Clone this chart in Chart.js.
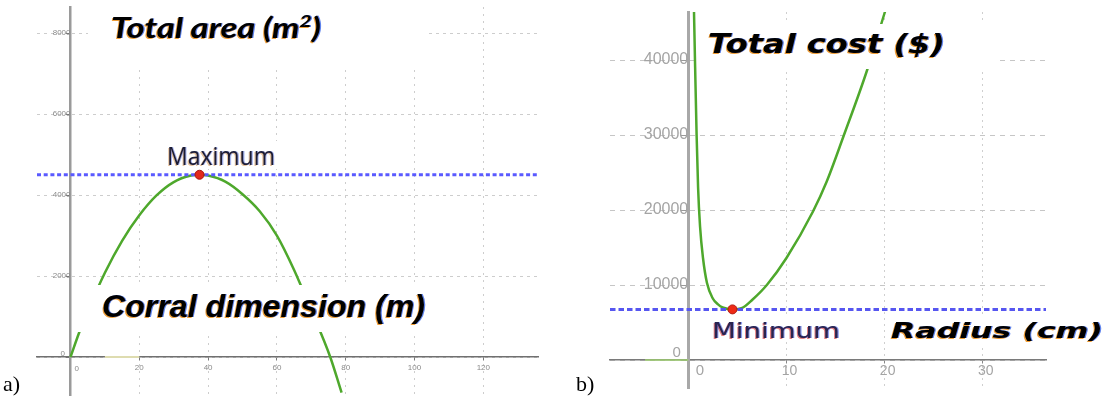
<!DOCTYPE html>
<html><head><meta charset="utf-8">
<script src="https://cdn.jsdelivr.net/npm/chart.js@4.4.1/dist/chart.umd.min.js"></script>
<style>
html,body{margin:0;padding:0;background:#fff;width:1112px;height:401px;overflow:hidden}
canvas{position:absolute;top:0}
#cA{left:0}
#cB{left:556px}
.lab{position:absolute;font-family:'Liberation Serif','Times New Roman',serif;font-size:22px;color:#000;line-height:1}
</style></head><body>
<canvas id="cA" width="556" height="401"></canvas>
<canvas id="cB" width="556" height="401"></canvas>
<div class="lab" style="left:3px;top:373px">a)</div>
<div class="lab" style="left:576px;top:373px">b)</div>
<script>
// ---------- (a) Total area vs corral dimension ----------
const corralDimension = [0, 2.5, 5, 10, 15, 20, 25, 30, 35, 37.5, 40, 45, 50, 55, 60, 65, 70, 75.5, 78.8];
const totalArea       = [0, 600, 1130, 2080, 2870, 3500, 3990, 4320, 4480, 4500, 4480, 4330, 4020, 3600, 3000, 2150, 1150, 0, -880];
const areaMaxX = 37.5;
const areaMaxY = 4500;
const areaXTicks = [0, 20, 40, 60, 80, 100, 120];
const areaYTicks = [0, 2000, 4000, 6000, 8000];
const areaXRange = [-9.74, 135.9];
const areaYRange = [-938, 8642];
const areaFaintX = [10, 20];

// ---------- (b) Total cost vs radius ----------
const radius    = [0.56, 0.7, 0.85, 1.0, 1.2, 1.5, 1.9, 2.5, 3.0, 3.5, 4.5, 5.5, 6.5, 8.0, 10.0, 12.7, 14.1, 15.8, 18.2, 20.0, 20.4];
const totalCost = [48000, 39000, 30000, 23000, 17800, 13600, 10300, 8200, 7450, 7000, 6750, 6950, 8000, 10000, 13600, 19800, 23800, 29800, 38600, 46300, 48000];
const costMinX = 4.5;
const costMinY = 6750;
const costXTicks = [0, 10, 20, 30];
const costYTicks = [0, 10000, 20000, 30000, 40000];
const costXRange = [-7.97, 36.43];
const costYRange = [-3733, 46400];
const costStubX = [-4.4, 0];

function pts(xs, ys) { return xs.map((x, i) => ({x: x, y: ys[i]})); }

function drawRuns(ctx, it, offX) {
  ctx.save();
  ctx.textBaseline = 'alphabetic';
  ctx.textAlign = 'left';
  let total = 0;
  const widths = it.runs.map(r => { ctx.font = r.font; const w = ctx.measureText(r.text).width; total += w; return w; });
  const s = it.width / total;
  const layers = it.fringe ? [[-1.1, 0.6, it.fringe[0]], [1.1, -0.3, it.fringe[1]], [0, 0, it.color]] : [[0, 0, it.color]];
  layers.forEach(([dx, dy, col]) => {
    ctx.save();
    ctx.translate(it.x - offX + dx, it.y + dy);
    ctx.scale(s, 1);
    let cx = 0;
    it.runs.forEach((r, i) => {
      ctx.font = r.font; ctx.fillStyle = col;
      ctx.fillText(r.text, cx, r.dy || 0);
      cx += widths[i];
    });
    ctx.restore();
  });
  ctx.restore();
}

function notesPlugin(items, offX, zero) {
  return {
    id: 'notes',
    afterDatasetsDraw(chart) {
      const ctx = chart.ctx;
      ctx.save();
      ctx.fillStyle = '#fff';
      items.forEach(it => { if (it.box) ctx.fillRect(it.box[0] - offX, it.box[1], it.box[2] - it.box[0], it.box[3] - it.box[1]); });
      ctx.restore();
      items.forEach(it => drawRuns(ctx, it, offX));
      const xs = chart.scales.x, ys = chart.scales.y;
      const ox = xs.getPixelForValue(0), oy = ys.getPixelForValue(0);
      ctx.save();
      ctx.font = zero.font; ctx.fillStyle = zero.color;
      ctx.textAlign = 'center'; ctx.textBaseline = 'middle';
      ctx.fillText('0', ox + zero.yl[0], oy + zero.yl[1]);
      ctx.fillText('0', ox + zero.xl[0], oy + zero.xl[1]);
      ctx.restore();
    }
  };
}

function scaleOpts(o) {
  return {
    type: 'linear', min: o.range[0], max: o.range[1], position: o.position,
    afterBuildTicks: s => { s.ticks = o.ticks.map(v => ({value: v})); },
    ticks: { font: {size: o.fontSize, family: "'Liberation Sans', Arial, sans-serif"}, color: o.tickColor,
             padding: o.padding, maxRotation: 0, autoSkip: false, labelOffset: o.labelOffset || 0,
             callback: v => v === 0 ? '' : String(v) },
    grid: { color: o.gridColor, lineWidth: 1, tickLength: o.tickLength, tickColor: o.tickMarkColor, tickWidth: 1 },
    border: { color: o.axisColor, width: o.axisWidth, dash: o.dash }
  };
}

function build() {
  new Chart(document.getElementById('cA'), {
    type: 'scatter',
    data: { datasets: [
      { data: [{x: areaMaxX, y: areaMaxY}], pointRadius: 4.5, pointBackgroundColor: '#e2291c', pointBorderColor: '#a81410', pointBorderWidth: 1 },
      { data: [{x: areaXRange[0], y: areaMaxY}, {x: areaXRange[1], y: areaMaxY}], showLine: true, borderColor: '#5a5aff', borderWidth: 3, borderDash: [4, 2.7], pointRadius: 0 },
      { data: pts(corralDimension, totalArea), showLine: true, borderColor: '#4ea82c', borderWidth: 2.5, pointRadius: 0, cubicInterpolationMode: 'monotone' },
      { data: [{x: areaFaintX[0], y: 0}, {x: areaFaintX[1], y: 0}], showLine: true, borderColor: '#dedcb0', borderWidth: 2, pointRadius: 0 }
    ]},
    options: {
      responsive: false, animation: false, devicePixelRatio: 1, events: [],
      layout: { padding: {left: 37, right: 18, top: 7, bottom: 6} },
      plugins: { legend: {display: false}, tooltip: {enabled: false} },
      scales: {
        x: scaleOpts({range: areaXRange, position: {y: 0}, ticks: areaXTicks, fontSize: 8, tickColor: '#8a8a8a', padding: 3, tickLength: 3,
                      gridColor: '#cdcdcd', tickMarkColor: '#777', axisColor: '#707070', axisWidth: 1.5, dash: [2, 5]}),
        y: scaleOpts({range: areaYRange, position: {x: 0}, ticks: areaYTicks, fontSize: 8, tickColor: '#8a8a8a', padding: 1, tickLength: 3,
                      gridColor: '#cdcdcd', tickMarkColor: '#777', axisColor: '#9a9a9a', axisWidth: 2.5, dash: [3, 4]})
      }
    },
    plugins: [notesPlugin([
      { box: [88, 0, 428, 68], x: 111, y: 38, width: 210, color: '#000', fringe: ['rgba(235,140,20,0.85)', 'rgba(40,90,230,0.75)'],
        runs: [{text: 'Total area (m', font: "italic bold 28px Lato, 'Open Sans', sans-serif"},
               {text: '2', font: "italic bold 17px Lato, 'Open Sans', sans-serif", dy: -11},
               {text: ')', font: "italic bold 28px Lato, 'Open Sans', sans-serif"}] },
      { box: [163, 141, 280, 169], x: 167, y: 165, width: 108, color: '#1c1c34', fringe: ['rgba(200,120,40,0.45)', 'rgba(60,90,220,0.45)'],
        runs: [{text: 'Maximum', font: "25px 'Open Sans', sans-serif"}] },
      { box: [76, 285, 430, 332], x: 102, y: 317, width: 323, color: '#000', fringe: ['rgba(235,140,20,0.85)', 'rgba(40,90,230,0.75)'],
        runs: [{text: 'Corral dimension (m)', font: "italic bold 32px 'Liberation Sans', Arial, sans-serif"}] }
    ], 0, {font: "8px 'Liberation Sans', Arial", color: '#8a8a8a', yl: [-7.8, -3.7], xl: [6.2, 11.3]})]
  });

  new Chart(document.getElementById('cB'), {
    type: 'scatter',
    data: { datasets: [
      { data: [{x: costMinX, y: costMinY}], pointRadius: 4.5, pointBackgroundColor: '#ee2a16', pointBorderColor: '#b01a10', pointBorderWidth: 1 },
      { data: [{x: costXRange[0], y: costMinY}, {x: costXRange[1], y: costMinY}], showLine: true, borderColor: '#5656f0', borderWidth: 3, borderDash: [5.5, 3], pointRadius: 0 },
      { data: pts(radius, totalCost), showLine: true, borderColor: '#4ea82c', borderWidth: 2.5, pointRadius: 0, cubicInterpolationMode: 'monotone' },
      { data: [{x: costStubX[0], y: 0}, {x: costStubX[1], y: 0}], showLine: true, borderColor: '#9fd070', borderWidth: 1.5, pointRadius: 0 }
    ]},
    options: {
      responsive: false, animation: false, devicePixelRatio: 1, events: [],
      layout: { padding: {left: 54, right: 66, top: 12, bottom: 13} },
      plugins: { legend: {display: false}, tooltip: {enabled: false} },
      scales: {
        x: scaleOpts({range: costXRange, position: {y: 0}, ticks: costXTicks, fontSize: 14, tickColor: '#a4a4a4', padding: 0, tickLength: 3, labelOffset: 3,
                      gridColor: '#cfcfcf', tickMarkColor: '#888', axisColor: '#7a7a7a', axisWidth: 1.5, dash: [2, 4]}),
        y: scaleOpts({range: costYRange, position: {x: 0}, ticks: costYTicks, fontSize: 16, tickColor: '#a4a4a4', padding: 1, tickLength: 6,
                      gridColor: '#c6c6c6', tickMarkColor: '#999', axisColor: '#a8a8a8', axisWidth: 3, dash: [5, 5]})
      }
    },
    plugins: [notesPlugin([
      { box: [697, 24, 997, 69], x: 708, y: 53, width: 237, color: '#000', fringe: ['rgba(235,140,20,0.85)', 'rgba(40,90,230,0.75)'],
        runs: [{text: 'Total cost ($)', font: "italic bold 27px 'DejaVu Sans', Verdana, sans-serif"}] },
      { box: [708, 318, 845, 342], x: 712, y: 338, width: 128, color: '#2a2450', fringe: ['rgba(210,40,40,0.6)', 'rgba(50,80,230,0.55)'],
        runs: [{text: 'Minimum', font: "21px 'DejaVu Sans', Verdana, sans-serif"}] },
      { box: [886, 318, 1106, 344], x: 891, y: 338, width: 212, color: '#000', fringe: ['rgba(235,140,20,0.85)', 'rgba(40,90,230,0.75)'],
        runs: [{text: 'Radius (cm)', font: "italic bold 21px 'DejaVu Sans', Verdana, sans-serif"}] }
    ], 556, {font: "15px 'Liberation Sans', Arial", color: '#a4a4a4', yl: [-11.6, -7], xl: [11.7, 11]})]
  });
}

const fontsToLoad = ["italic bold 28px Lato", "25px 'Open Sans'", "italic bold 32px 'Liberation Sans'", "italic bold 27px 'DejaVu Sans'", "21px 'DejaVu Sans'", "15px 'Liberation Sans'"];
Promise.all(fontsToLoad.map(f => document.fonts.load(f))).then(build, build);
</script>
</body></html>
